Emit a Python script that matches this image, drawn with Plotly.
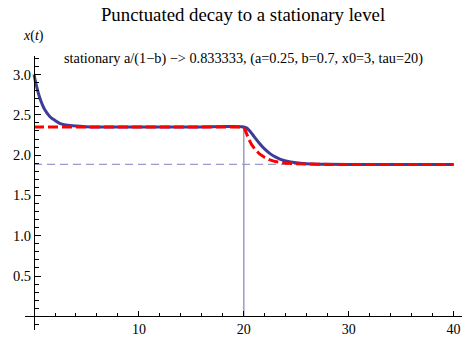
import plotly.graph_objects as go

# ---- data ----
t_blue = [0, 0.25, 0.5, 0.75, 1, 1.5, 2, 2.5, 3, 4, 5, 6, 8, 10, 15, 20,
          20.25, 20.5, 20.75, 21, 21.5, 22, 22.5, 23, 23.5, 24, 25, 26, 27, 28, 30, 35, 40]
x_blue = [3.00, 2.85, 2.73, 2.64, 2.57, 2.48, 2.43, 2.39, 2.375, 2.36, 2.353, 2.35, 2.35, 2.35, 2.35, 2.35,
          2.338, 2.308, 2.27, 2.227, 2.144, 2.074, 2.019, 1.978, 1.948, 1.928, 1.904, 1.893, 1.888, 1.886, 1.885, 1.885, 1.885]

t_red = [0, 10, 20, 20.1, 20.25, 20.5, 20.75, 21, 21.5, 22, 22.5, 23, 23.5, 24, 25, 26, 28, 30, 35, 40]
x_red = [2.35, 2.35, 2.35, 2.32, 2.26, 2.19, 2.13, 2.085, 2.015, 1.97, 1.94, 1.92, 1.91, 1.90, 1.892, 1.888, 1.885, 1.885, 1.885, 1.885]

level_t = [0, 40]
level_x = [1.885, 1.885]

jump_t = [20, 20]
jump_x = [0, 2.35]

x_tickvals = [10, 20, 30, 40]
y_tickvals = [0.5, 1.0, 1.5, 2.0, 2.5, 3.0]
y_ticktext = ["0.5", "1.0", "1.5", "2.0", "2.5", "3.0"]

title_text = "Punctuated decay to a stationary level"
note_text = "stationary a/(1\u2212b) \u2212> 0.833333, (a=0.25, b=0.7, x0=3, tau=20)"

# ---- figure ----
xr = [-0.86, 40.8]
yr = [-0.17, 3.23]
FONT = "Liberation Serif"

fig = go.Figure()
fig.add_trace(go.Scatter(x=level_t, y=level_x, mode="lines",
                         line=dict(color="#9a9acc", width=1.3, dash="8px,5px"), hoverinfo="skip"))
fig.add_trace(go.Scatter(x=jump_t, y=jump_x, mode="lines",
                         line=dict(color="#9a9acc", width=1.5), hoverinfo="skip"))
fig.add_trace(go.Scatter(x=t_blue, y=x_blue, mode="lines", line_shape="spline",
                         line=dict(color="#3d3d99", width=3), hoverinfo="skip"))
fig.add_trace(go.Scatter(x=t_red, y=x_red, mode="lines",
                         line=dict(color="#ff0000", width=3, dash="10px,4px"), hoverinfo="skip"))

xpos = (0 - xr[0]) / (xr[1] - xr[0])
ypos = (0 - yr[0]) / (yr[1] - yr[0])

fig.update_layout(
    width=471, height=338,
    margin=dict(l=25, r=9, t=56, b=8),
    paper_bgcolor="white", plot_bgcolor="white",
    showlegend=False,
    font=dict(family=FONT, size=14, color="black"),
    title=dict(text=title_text, x=0.516, xanchor="center", y=1 - 14 / 338, yanchor="middle",
               font=dict(family=FONT, size=18.8, color="black")),
    xaxis=dict(range=xr, anchor="free", position=ypos, showgrid=False, zeroline=False,
               showline=True, linecolor="black", linewidth=1,
               tickmode="array", tickvals=x_tickvals, ticks="inside", ticklen=5,
               tickcolor="black", tickwidth=1, ticklabelstandoff=0,
               minor=dict(dtick=2, tick0=0, ticks="inside", ticklen=3, tickcolor="black", showgrid=False),
               tickfont=dict(family=FONT, size=14), automargin=False),
    yaxis=dict(range=yr, anchor="free", position=xpos, showgrid=False, zeroline=False,
               showline=True, linecolor="black", linewidth=1,
               tickmode="array", tickvals=y_tickvals, ticktext=y_ticktext, ticks="inside", ticklen=6,
               tickcolor="black", tickwidth=1,
               minor=dict(dtick=0.1, tick0=0, ticks="inside", ticklen=3.5, tickcolor="black", showgrid=False),
               tickfont=dict(family=FONT, size=14.5), automargin=False),
)

fig.add_annotation(text=note_text, xref="paper", yref="paper", x=0.5, y=(330 - 58) / 274,
                   xanchor="center", yanchor="middle", showarrow=False,
                   font=dict(family=FONT, size=14.3, color="black"))
fig.add_annotation(text="<i>x</i>(<i>t</i>)", xref="paper", yref="paper", x=(33 - 25) / 437,
                   y=(330 - 36) / 274, xanchor="center", yanchor="middle", showarrow=False,
                   font=dict(family=FONT, size=14, color="black"))

fig.write_html("out.html")
